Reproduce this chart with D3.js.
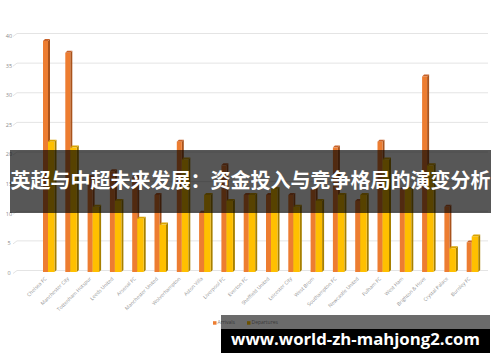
<!DOCTYPE html>
<html>
<head>
<meta charset="utf-8">
<script src="https://cdn.jsdelivr.net/npm/d3@7"></script>
<style>
    body { margin: 0; background: #fff; }
    #chart-area { width: 500px; height: 362px; }
</style>
</head>
<body>
<div id="chart-area"></div>
<script>

// chart data
let teams = ["Chelsea FC", "Manchester City", "Tottenham Hotspur", "Leeds United", "Arsenal FC",
    "Manchester United", "Wolverhampton", "Aston Villa", "Liverpool FC", "Everton FC",
    "Sheffield United", "Leicester City", "West Brom", "Southampton FC", "Newcastle United",
    "Fulham FC", "West Ham", "Brighton & Hove", "Crystal Palace", "Burnley FC"];
let arrivals   = [39, 37, 16, 17, 16, 13, 22, 10, 18, 13, 13, 13, 14, 21, 12, 22, 14, 33, 11, 5];
let departures = [22, 21, 11, 12, 9, 8, 19, 13, 12, 13, 14, 11, 12, 13, 13, 19, 14, 18, 4, 6];
let yTicks = [0, 5, 10, 15, 20, 25, 30, 35, 40];
let seriesNames = ["Arrivals", "Departures"];

let title = "英超与中超未来发展：资金投入与竞争格局的演变分析";
let watermark = "www.world-zh-mahjong2.com";

class BarVis {

    constructor(parentElement) {
        this.parentElement = parentElement;
        this.initVis();
    }

    initVis() {
        let vis = this;

        vis.width = 500;
        vis.height = 362;

        vis.svg = d3.select("#" + vis.parentElement).append("svg")
            .attr("width", vis.width)
            .attr("height", vis.height)
            .style("font-family", "'Open Sans', 'Liberation Sans', sans-serif");

        // scales
        vis.x = d3.scaleBand()
            .domain(teams)
            .range([36, 482])
            .padding(0);

        vis.y = d3.scaleLinear()
            .domain([0, 40])
            .range([272, 35]);

        vis.colors = {Arrivals: "#ED7D31", Departures: "#FFC000"};
        vis.sides = {Arrivals: "#A9531C", Departures: "#A88000"};
        vis.tops = {Arrivals: "#C7622A", Departures: "#D9A300"};

        vis.wrangleData();
    }

    wrangleData() {
        let vis = this;

        vis.displayData = [];
        teams.forEach((t, i) => {
            vis.displayData.push({team: t, series: "Arrivals", value: arrivals[i], off: 7, w: 5});
            vis.displayData.push({team: t, series: "Departures", value: departures[i], off: 12, w: 6.5});
        });

        vis.updateVis();
    }

    updateVis() {
        let vis = this;
        let dx = 2, dy = 2;

        // back wall gridlines (3d look, slightly shifted)
        let grid = vis.svg.append("g").attr("class", "grid");
        grid.selectAll("line.h")
            .data(yTicks)
            .enter().append("line")
            .attr("class", "h")
            .attr("x1", 17).attr("x2", 488)
            .attr("y1", d => vis.y(d) - 1.5)
            .attr("y2", d => vis.y(d) - 1.5)
            .attr("stroke", "#e4e4e4")
            .attr("stroke-width", 1);
        grid.selectAll("line.s")
            .data(yTicks)
            .enter().append("line")
            .attr("class", "s")
            .attr("x1", 13).attr("x2", 17)
            .attr("y1", d => vis.y(d) + 1.5)
            .attr("y2", d => vis.y(d) - 1.5)
            .attr("stroke", "#e4e4e4");

        // y axis labels
        vis.svg.append("g")
            .selectAll("text")
            .data(yTicks)
            .enter().append("text")
            .attr("x", 9)
            .attr("y", d => vis.y(d) + 1.5)
            .attr("dominant-baseline", "middle")
            .attr("text-anchor", "middle")
            .attr("font-size", 5.5)
            .attr("fill", "#8a8a8a")
            .text(d => d);

        // bars: front, side, top
        let bars = vis.svg.append("g").selectAll("g.bar")
            .data(vis.displayData)
            .enter().append("g")
            .attr("class", "bar");

        bars.append("path")
            .attr("fill", d => vis.sides[d.series])
            .attr("d", d => {
                let x0 = vis.x(d.team) + d.off + d.w, yt = vis.y(d.value), yb = vis.y(0);
                return `M${x0},${yt} L${x0 + dx},${yt - dy} L${x0 + dx},${yb - dy} L${x0},${yb} Z`;
            });

        bars.append("path")
            .attr("fill", d => vis.tops[d.series])
            .attr("d", d => {
                let x0 = vis.x(d.team) + d.off, yt = vis.y(d.value);
                return `M${x0},${yt} L${x0 + dx},${yt - dy} L${x0 + d.w + dx},${yt - dy} L${x0 + d.w},${yt} Z`;
            });

        bars.append("rect")
            .attr("x", d => vis.x(d.team) + d.off)
            .attr("y", d => vis.y(d.value))
            .attr("width", d => d.w)
            .attr("height", d => vis.y(0) - vis.y(d.value))
            .attr("fill", d => vis.colors[d.series]);

        // x labels, rotated
        vis.svg.append("g")
            .selectAll("text")
            .data(teams)
            .enter().append("text")
            .attr("text-anchor", "end")
            .attr("font-size", 5)
            .attr("fill", "#939393")
            .attr("transform", d => `translate(${vis.x(d) + 11}, 279) rotate(-45)`)
            .text(d => d);

        // legend
        let legend = vis.svg.append("g")
            .attr("transform", "translate(213, 323)");
        let items = legend.selectAll("g")
            .data(seriesNames)
            .enter().append("g")
            .attr("transform", (d, i) => `translate(${i * 34}, 0)`);
        items.append("rect")
            .attr("x", 0).attr("y", -1.8)
            .attr("width", 3.5).attr("height", 3.5)
            .attr("fill", d => vis.colors[d]);
        items.append("text")
            .attr("x", 4.5)
            .attr("y", 0)
            .attr("dominant-baseline", "middle")
            .attr("font-size", 5)
            .attr("fill", "#8a8a8a")
            .text(d => d);

        // title banner
        vis.svg.append("rect")
            .attr("x", 10).attr("y", 150)
            .attr("width", 481).attr("height", 63)
            .attr("fill", "#000")
            .attr("fill-opacity", 0.66);
        vis.svg.append("text")
            .attr("x", 250.5).attr("y", 183)
            .attr("text-anchor", "middle")
            .attr("dominant-baseline", "middle")
            .attr("font-family", "'Noto Sans CJK SC', sans-serif")
            .attr("font-weight", "bold")
            .attr("font-size", 20)
            .attr("fill", "#fff")
            .text(title);

        // watermark box
        vis.svg.append("rect")
            .attr("x", 221).attr("y", 315)
            .attr("width", 269).attr("height", 14)
            .attr("fill", "#000")
            .attr("fill-opacity", 0.58);
        vis.svg.append("rect")
            .attr("x", 221).attr("y", 329)
            .attr("width", 269).attr("height", 24)
            .attr("fill", "#000");
        let wm = vis.svg.append("text")
            .attr("x", 355.5).attr("y", 341)
            .attr("text-anchor", "middle")
            .attr("dominant-baseline", "middle")
            .attr("font-family", "'Open Sans', sans-serif")
            .attr("font-weight", "bold")
            .attr("font-size", 20)
            .attr("fill", "#fff")
            .text(watermark);
        // shrink font so it spans about 249px like the reference
        let len = wm.node().getComputedTextLength();
        wm.attr("font-size", 20 * 249 / len);
    }
}

let barVis = new BarVis("chart-area");

</script>
</body>
</html>
